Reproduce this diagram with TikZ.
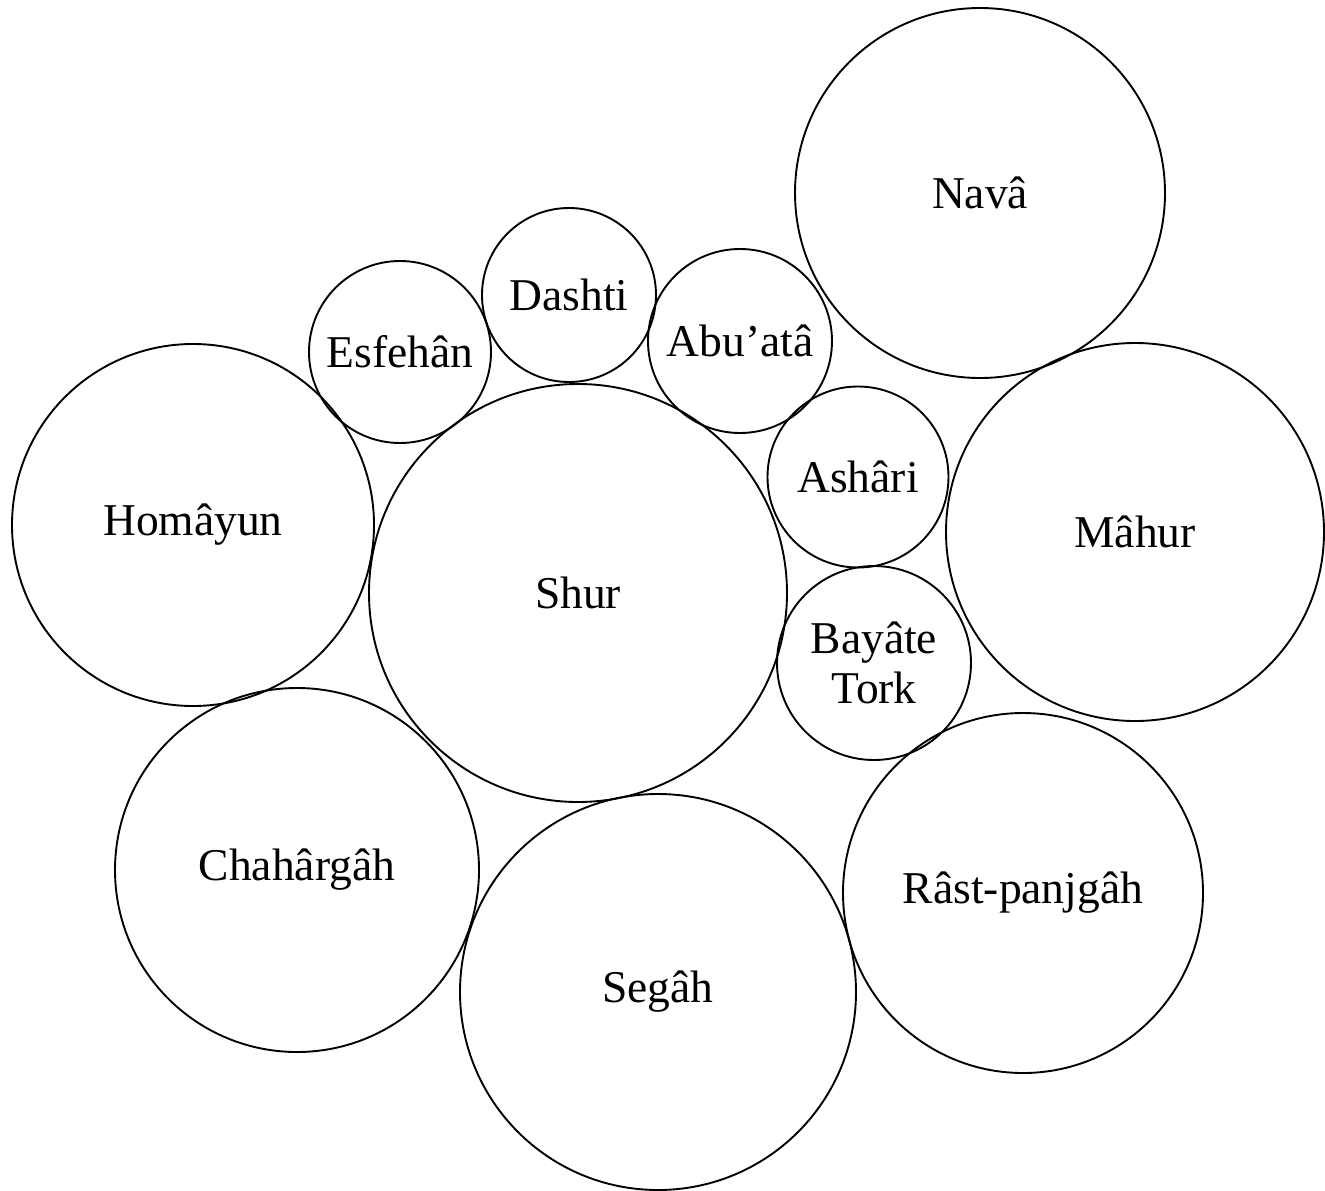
\documentclass[tikz,border=0pt]{standalone}
\usepackage{fontspec}
\setmainfont{Liberation Serif}
\begin{document}
\begin{tikzpicture}[x=1pt,y=-1pt,
  ring/.style={draw=black,line width=1.9pt,circle,inner sep=0pt,align=center,
    font=\fontsize{45.5}{50}\selectfont}]
\useasboundingbox (0,0) rectangle (1325,1191);
\node[ring,minimum size=370pt] (nava) at (980,193) {Navâ};
\node[ring,minimum size=174pt] (dashti) at (569,295) {Dashti};
\node[ring,minimum size=182pt] (esfehan) at (400,352) {Esfehân};
\node[ring,minimum size=184pt] (abuata) at (740,341) {Abu’atâ};
\node[ring,minimum size=362pt] (homayun) at (193,525) {Homâyun};
\node[ring,minimum size=418pt] (shur) at (578,593) {Shur};
\node[ring,minimum size=181pt] (ashari) at (858,477) {Ashâri};
\node[ring,minimum size=378pt] (mahur) at (1135,532) {Mâhur};
\node[ring,minimum size=194pt] (bayate) at (874,663) {Bayâte\\Tork};
\node[ring,minimum size=364pt] (chahargah) at (297,870) {Chahârgâh};
\node[ring,minimum size=396pt] (segah) at (658,992) {Segâh};
\node[ring,minimum size=360pt] (rast) at (1023,893) {Râst-panjgâh};
\end{tikzpicture}
\end{document}
